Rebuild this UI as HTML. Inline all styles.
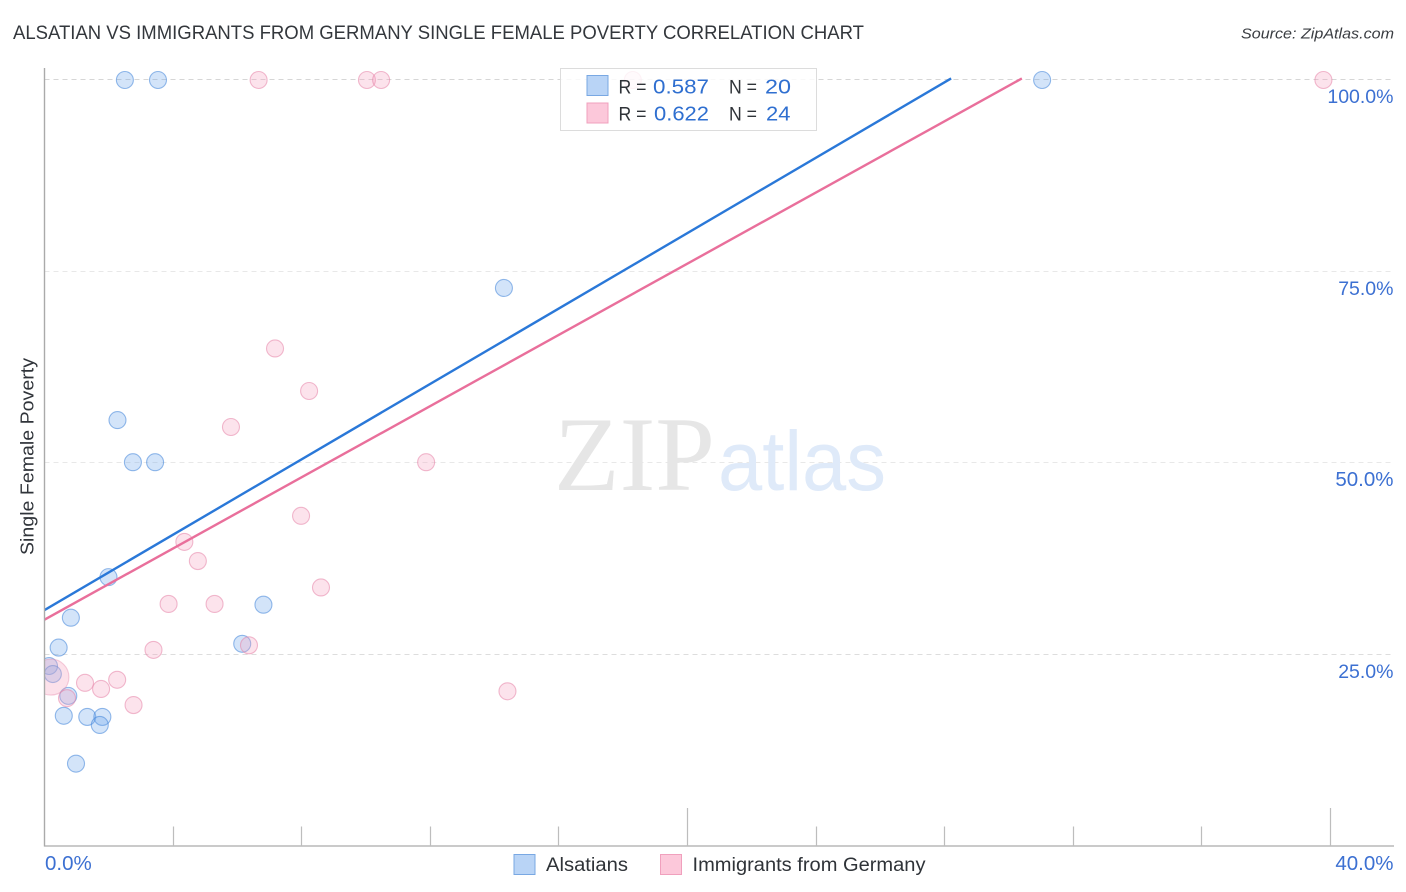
<!DOCTYPE html>
<html lang="en">
<head>
<meta charset="utf-8">
<title>Alsatian vs Immigrants from Germany Single Female Poverty Correlation Chart</title>
<style>
html,body{margin:0;padding:0;background:#fff;width:1406px;height:892px;overflow:hidden}
svg{display:block;font-family:"Liberation Sans",sans-serif}
</style>
</head>
<body>
<svg id="chart" xmlns="http://www.w3.org/2000/svg" width="1406" height="892" viewBox="0 0 1406 892">
  <defs>
    <clipPath id="plot-clip"><rect x="45" y="60" width="1349" height="786"/></clipPath>
  </defs>
  <text x="13" y="39" font-size="19.5" fill="#33373c" textLength="851" lengthAdjust="spacingAndGlyphs">ALSATIAN VS IMMIGRANTS FROM GERMANY SINGLE FEMALE POVERTY CORRELATION CHART</text>
  <text x="1241" y="38.5" font-size="15" font-style="italic" fill="#3a3d42" textLength="153" lengthAdjust="spacingAndGlyphs">Source: ZipAtlas.com</text>
  <g id="grid"></g>
  <g>
    <text x="554" y="490" font-family="'Liberation Serif',serif" font-size="106" fill="#e6e6e6" textLength="161" lengthAdjust="spacingAndGlyphs">ZIP</text>
    <text x="718" y="490" font-size="84" fill="#dfeaf9" textLength="168" lengthAdjust="spacingAndGlyphs">atlas</text>
  </g>
  <g id="points" clip-path="url(#plot-clip)"></g>
  <g id="trends" clip-path="url(#plot-clip)"></g>
  <g id="axes"></g>
  <text transform="translate(33.5,555) rotate(-90)" font-size="18" fill="#30343a" textLength="197" lengthAdjust="spacingAndGlyphs">Single Female Poverty</text>
  <g>
    <rect x="560.5" y="68.5" width="256" height="62" fill="#fff" fill-opacity="0.82" stroke="#dcdcdc" stroke-width="1"/>
    <rect x="587" y="75.5" width="21" height="20" fill="#b9d4f6" stroke="#79a8e3" stroke-width="1"/>
    <rect x="587" y="103" width="21" height="20" fill="#fcc8da" stroke="#f0a0bd" stroke-width="1"/>
    <g font-size="19.5" fill="#2f3338">
      <text x="618.5" y="93.5" textLength="28" lengthAdjust="spacingAndGlyphs">R =</text>
      <text x="729" y="93.5" textLength="28" lengthAdjust="spacingAndGlyphs">N =</text>
      <text x="618.5" y="120.5" textLength="28" lengthAdjust="spacingAndGlyphs">R =</text>
      <text x="729" y="120.5" textLength="28" lengthAdjust="spacingAndGlyphs">N =</text>
    </g>
    <g font-size="20.5" fill="#2f6fd0">
      <text x="653" y="93.5" textLength="56" lengthAdjust="spacingAndGlyphs">0.587</text>
      <text x="765" y="93.5" textLength="26" lengthAdjust="spacingAndGlyphs">20</text>
      <text x="654" y="120.5" textLength="55" lengthAdjust="spacingAndGlyphs">0.622</text>
      <text x="766" y="120.5" textLength="24.5" lengthAdjust="spacingAndGlyphs">24</text>
    </g>
  </g>
  <g>
    <rect x="514" y="854.5" width="21" height="20" fill="#b9d4f6" stroke="#79a8e3" stroke-width="1"/>
    <text x="546" y="871" font-size="19" fill="#2f3338" textLength="82" lengthAdjust="spacingAndGlyphs">Alsatians</text>
    <rect x="660.5" y="854.5" width="21" height="20" fill="#fcc8da" stroke="#f0a0bd" stroke-width="1"/>
    <text x="692.5" y="871" font-size="19" fill="#2f3338" textLength="233" lengthAdjust="spacingAndGlyphs">Immigrants from Germany</text>
  </g>
</svg>
<script>
const alsatianX = [2.50,3.53,31.03,14.29,2.27,2.75,3.44,1.99,6.81,0.82,0.44,6.15,0.14,0.26,0.74,0.60,1.33,1.80,1.72,0.98];
const alsatianY = [100,100,100,72.85,55.6,50.1,50.1,35.1,31.5,29.8,25.9,26.4,23.5,22.45,19.6,17.0,16.85,16.85,15.8,10.75];
const immigrantX = [6.66,10.03,10.47,18.30,39.78,7.17,8.23,5.80,11.87,7.98,4.35,4.77,8.60,3.86,5.29,3.39,6.36,14.40,1.26,1.76,2.26,2.77,0.70,0.20];
const immigrantY = [100,100,100,100,100,64.95,59.4,54.7,50.1,43.1,39.7,37.2,33.75,31.6,31.6,25.6,26.2,20.2,21.3,20.5,21.7,18.4,19.3,22.05];
const immigrantLargeFlag = [0,0,0,0,0,0,0,0,0,0,0,0,0,0,0,0,0,0,0,0,0,0,0,1];
const alsatianTrendX = [0,28.2];
const alsatianTrendY = [30.8,100.2];
const immigrantTrendX = [0,30.4];
const immigrantTrendY = [29.55,100.2];
const xTickValues = [0,4,8,12,16,20,24,28,32,36,40];
const xMajorTicks = [0,20,40];
const xLabelValues = [0,40];
const xLabelTexts = ['0.0%','40.0%'];
const yTickValues = [25,50,75,100];
const yTickLabels = ['25.0%','50.0%','75.0%','100.0%'];

const NS = 'http://www.w3.org/2000/svg';
function xScale(v){ return 44.5 + v * (1330.5 - 44.5) / 40; }
function yScale(v){ return 846 - v * (846 - 80) / 100; }
function make(tag, attrs, parent){
  const el = document.createElementNS(NS, tag);
  Object.keys(attrs).forEach(function(k){ el.setAttribute(k, attrs[k]); });
  parent.appendChild(el);
  return el;
}
const gridG = document.getElementById('grid');
const axesG = document.getElementById('axes');
const pointsG = document.getElementById('points');
const trendsG = document.getElementById('trends');

yTickValues.forEach(function(v, i){
  const py = Math.round(yScale(v)) - 0.5;
  const line = make('line', {x1:44.5, x2:1394, y1:py, y2:py, stroke: v === 100 ? '#d6d6d6' : (v === 25 ? '#dddddd' : '#e8e8e8'), 'stroke-width':1, 'stroke-dasharray':'5 4'}, gridG);
  
  
  const label = make('text', {x:1393.5, y:py + 23.5, 'text-anchor':'end', 'font-size': v === 50 ? 20.5 : 19.5, fill:'#3c70d2'}, axesG);
  
  
  label.textContent = yTickLabels[i];
});

function drawPoints(xs, ys, fill, stroke, name){
  xs.forEach(function(x, i){
    const big = name === 'immigrant-point' && immigrantLargeFlag[i] === 1;
    const c = make('circle', {cx:xScale(x), cy:yScale(ys[i]), r: big ? 18 : 8.5, fill:fill, 'fill-opacity': big ? 0.32 : 0.3, stroke:stroke, 'stroke-opacity': big ? 0.4 : 0.55, 'stroke-width':1.1}, pointsG);
    
    
  });
}
drawPoints(alsatianX, alsatianY, '#6ea6ea', '#3f83d8', 'alsatian-point');
drawPoints(immigrantX, immigrantY, '#f6a3bf', '#e684a8', 'immigrant-point');

const blueTrend = make('line', {x1:xScale(alsatianTrendX[0]), y1:yScale(alsatianTrendY[0]), x2:xScale(alsatianTrendX[1]), y2:yScale(alsatianTrendY[1]), stroke:'#2a78d8', 'stroke-width':2.4}, trendsG);


const pinkTrend = make('line', {x1:xScale(immigrantTrendX[0]), y1:yScale(immigrantTrendY[0]), x2:xScale(immigrantTrendX[1]), y2:yScale(immigrantTrendY[1]), stroke:'#e96f9b', 'stroke-width':2.4}, trendsG);



const yAxisLine = make('line', {x1:44.5, x2:44.5, y1:68, y2:846.5, stroke:'#aaaaaa', 'stroke-width':1.4}, axesG);


const xAxisLine = make('line', {x1:44, x2:1394, y1:846, y2:846, stroke:'#aaaaaa', 'stroke-width':1.2}, axesG);



xTickValues.forEach(function(v){
  if (v === 0) return;
  const px = Math.floor(xScale(v)) + 0.5;
  const major = xMajorTicks.indexOf(v) >= 0;
  const t = make('line', {x1:px, x2:px, y1: major ? 808 : 826.5, y2:846, stroke:'#bdbdbd', 'stroke-width':1.2}, axesG);
  
  
});
xLabelValues.forEach(function(v, i){
  const first = i === 0;
  const label = make('text', {x: first ? xScale(v) + 0.5 : xScale(v) + 63, y:870, 'text-anchor': first ? 'start' : 'end', 'font-size':20.5, fill:'#3c70d2'}, axesG);
  
  
  label.textContent = xLabelTexts[i];
});
</script>
</body>
</html>
